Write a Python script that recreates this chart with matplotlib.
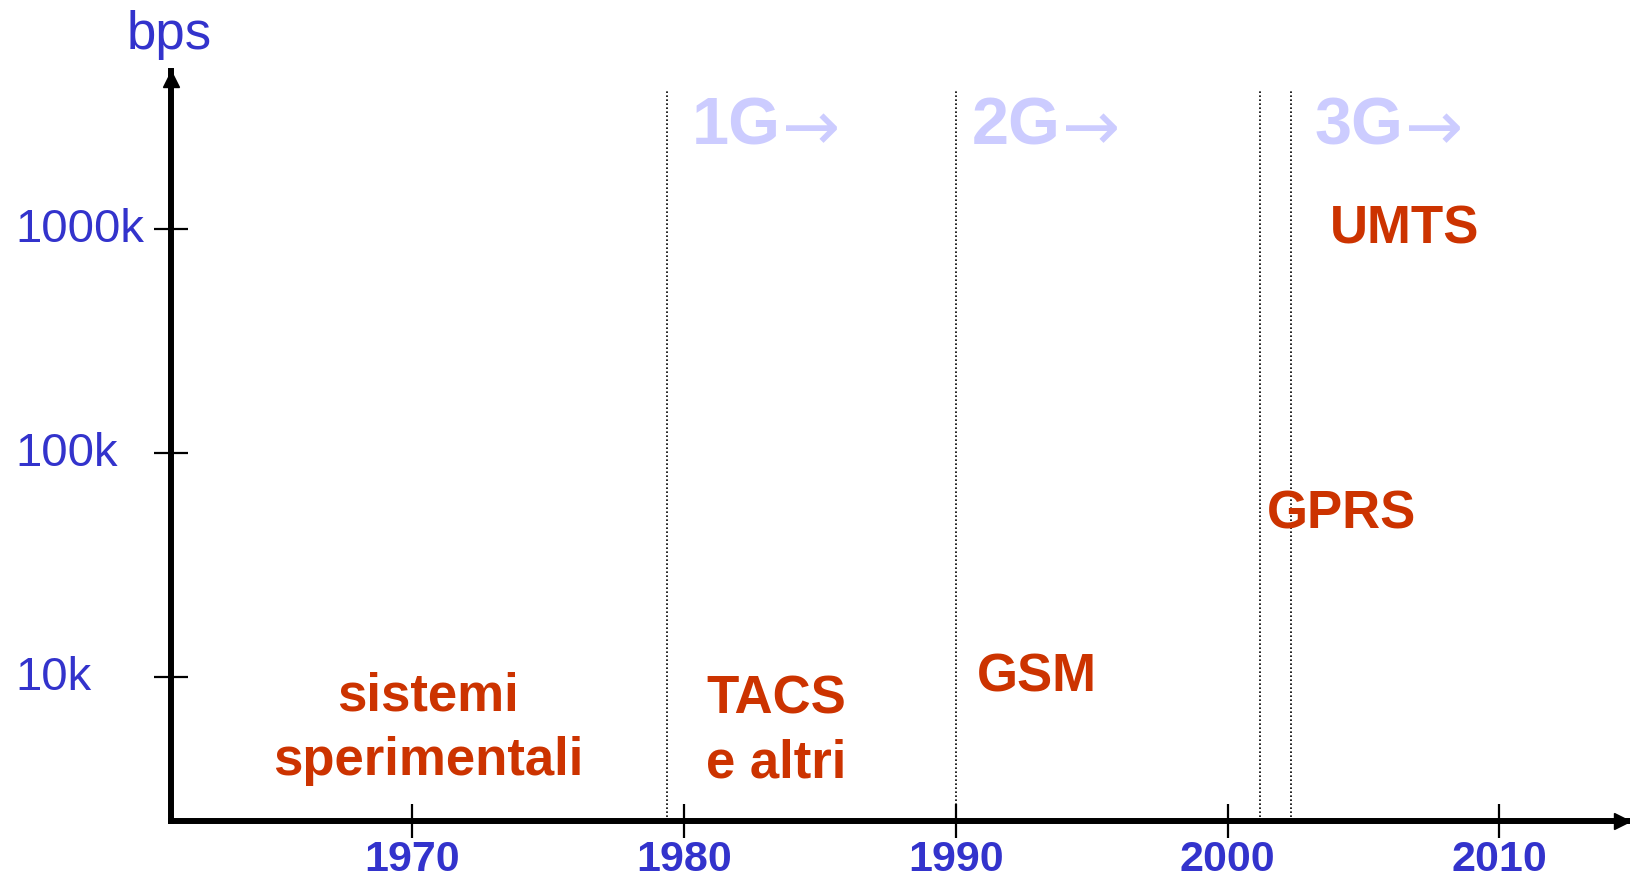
import matplotlib.pyplot as plt
from matplotlib.ticker import NullLocator
from matplotlib.transforms import ScaledTranslation

plt.rcParams['font.family'] = ['Liberation Sans', 'DejaVu Sans']

# data
years = [1970, 1980, 1990, 2000, 2010]
rate_ticks = [1e4, 1e5, 1e6]
rate_labels = ['10k', '100k', '1000k']

era_bounds = [1979.4, 1990.0, 2001.2, 2002.35]
generations = ['1G', '2G', '3G']
generation_start = [1980.3, 1990.6, 2003.2]

systems = ['sistemi\nsperimentali', 'TACS\ne altri', 'GSM', 'GPRS', 'UMTS']
system_year = [1970.6, 1983.4, 1993.0, 2004.2, 2006.5]
system_rate = [3.66e3, 3.55e3, 8.6e3, 46e3, 0.86e6]

blue = '#3333cc'
red = '#cc3300'
ghost = '#ccccff'

fig = plt.figure(figsize=(16.3, 8.76), dpi=100)
ax = fig.add_axes([0.1052, 0.0628, 0.8948, 0.8562])
ax.set_yscale('log')
ax.set_xlim(1961.16, 2014.8)
ax.set_ylim(10 ** 3.356, 10 ** 6.704)

for side in ['top', 'right']:
    ax.spines[side].set_visible(False)
for side in ['left', 'bottom']:
    ax.spines[side].set_linewidth(4.3)
    ax.spines[side].set_color('black')

# arrow heads
ax.plot(0, 0.989, '^', color='black', markersize=12, transform=ax.transAxes, clip_on=False)
ax.plot(0.9945, 0, '>', color='black', markersize=12, transform=ax.transAxes, clip_on=False)

ax.set_xticks(years)
ax.set_xticklabels([str(y) for y in years])
ax.set_yticks(rate_ticks)
ax.set_yticklabels(rate_labels)
ax.yaxis.set_minor_locator(NullLocator())
ax.xaxis.set_minor_locator(NullLocator())
ax.tick_params(direction='inout', length=24, width=1.6, color='black')
ax.tick_params(axis='x', pad=1.5, labelsize=31, labelcolor=blue)
ax.tick_params(axis='y', pad=100.7, labelsize=34, labelcolor=blue)
for lab in ax.get_xticklabels():
    lab.set_fontweight('bold')
up = ScaledTranslation(0, 2.5 / 72, fig.dpi_scale_trans)
for lab in ax.get_yticklabels():
    lab.set_horizontalalignment('left')
    lab.set_transform(lab.get_transform() + up)

# era boundaries
ax.vlines(era_bounds, ax.get_ylim()[0], 10 ** 6.619, colors='black',
          linestyles=(0, (1, 1.4)), linewidth=1.2)

# generation labels
for g, x in zip(generations, generation_start):
    t = ax.text(x, 2.37e6, g, color=ghost, fontsize=48, fontweight='bold',
                ha='left', va='baseline')
    ax.annotate('\u2192', xy=(1, 0), xycoords=t, xytext=(1, -4),
                textcoords='offset points', color=ghost, fontsize=50,
                family='DejaVu Sans', ha='left', va='bottom')

# systems
for name, x, r in zip(systems, system_year, system_rate):
    ax.text(x, r, name, color=red, fontsize=38, fontweight='bold',
            ha='center', va='baseline', linespacing=1.35)

fig.text(169 / 1630, 1 - 49.5 / 876, 'bps', color=blue, fontsize=38,
         ha='center', va='baseline')

fig.savefig('out.png', dpi=100)
